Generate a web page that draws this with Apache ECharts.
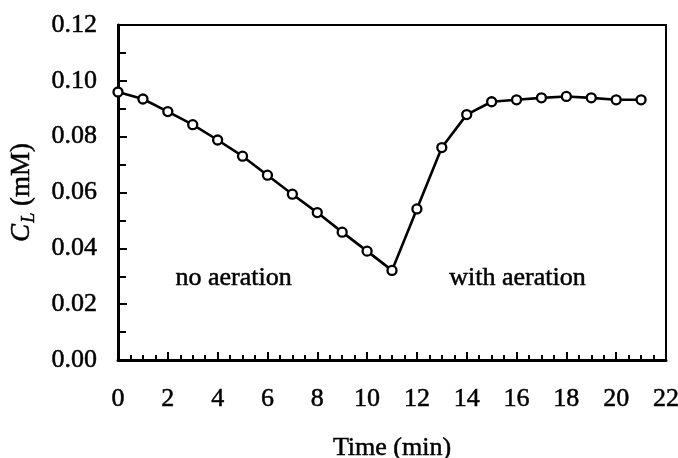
<!DOCTYPE html>
<html>
<head>
<meta charset="utf-8">
<script src="https://cdn.jsdelivr.net/npm/echarts@6/dist/echarts.min.js"></script>
<style>
  html, body { margin: 0; padding: 0; background: #fff; }
  #chart { width: 678px; height: 458px; }
</style>
</head>
<body>
<div id="chart"></div>
<script>
// Dissolved oxygen concentration over time
const timeMin = [0, 1, 2, 3, 4, 5, 6, 7, 8, 9, 10, 11, 12, 13, 14, 15, 16, 17, 18, 19, 20, 21];
const concMM = [0.0960, 0.0935, 0.0890, 0.0843, 0.0788, 0.0730, 0.0662, 0.0594, 0.0528, 0.0458,
                0.0390, 0.0321, 0.0541, 0.0761, 0.0879, 0.0925, 0.0932, 0.0939, 0.0944, 0.0939,
                0.0932, 0.0932];
const yTicks = ['0.00', '0.02', '0.04', '0.06', '0.08', '0.10', '0.12'];
const notes = [
  { t: 4.64, c: 0.0293, text: 'no aeration' },
  { t: 16.04, c: 0.0293, text: 'with aeration' }
];

const FONT = '"Liberation Serif", "DejaVu Serif", serif';
// slight ink spread on the text strokes
const INK = { textBorderColor: '#000', textBorderWidth: 0.5 };
const chart = echarts.init(document.getElementById('chart'), null, { renderer: 'canvas' });

chart.setOption({
  animation: false,
  backgroundColor: '#fff',
  grid: {
    left: 118, right: 12, top: 25, bottom: 98,
    containLabel: false, outerBoundsMode: 'none',
    show: true, borderColor: '#000', borderWidth: 2, backgroundColor: 'transparent'
  },
  xAxis: {
    type: 'value', min: 0, max: 22, interval: 2,
    name: 'Time (min)', nameLocation: 'middle', nameGap: 75,
    nameTextStyle: Object.assign({ fontFamily: FONT, fontSize: 26, color: '#000' }, INK),
    axisLine: { show: true, lineStyle: { color: '#000', width: 3 } },
    axisTick: { show: true, inside: true, length: 8, lineStyle: { color: '#000', width: 2 } },
    minorTick: { show: true, splitNumber: 4, length: 5, lineStyle: { color: '#000', width: 2 } },
    splitLine: { show: false },
    axisLabel: Object.assign({ margin: 26, fontFamily: FONT, fontSize: 26, color: '#000' }, INK)
  },
  yAxis: {
    type: 'value', min: 0, max: 0.12, interval: 0.02,
    name: '{c|C}{l|L}{n| (mM)}', nameLocation: 'middle', nameGap: 80, nameRotate: 90,
    nameTextStyle: {
      color: '#000',
      rich: {
        c: Object.assign({ fontFamily: FONT, fontSize: 27, fontStyle: 'italic', color: '#000', lineHeight: 30, verticalAlign: 'top' }, INK),
        l: Object.assign({ fontFamily: FONT, fontSize: 18, fontStyle: 'italic', color: '#000', lineHeight: 30, verticalAlign: 'bottom', padding: [0, 0, 0, 1] }, INK),
        n: Object.assign({ fontFamily: FONT, fontSize: 27, color: '#000', lineHeight: 30, verticalAlign: 'top' }, INK)
      }
    },
    axisLine: { show: true, lineStyle: { color: '#000', width: 3 } },
    axisTick: { show: true, inside: true, length: 9, lineStyle: { color: '#000', width: 2 } },
    minorTick: { show: true, splitNumber: 2, length: 8, lineStyle: { color: '#000', width: 2 } },
    splitLine: { show: false },
    axisLabel: Object.assign({
      margin: 21, fontFamily: FONT, fontSize: 26, color: '#000',
      formatter: (v) => yTicks[Math.round(v / 0.02)]
    }, INK)
  },
  series: [
    {
      type: 'line',
      data: timeMin.map((t, i) => [t, concMM[i]]),
      symbol: 'circle', symbolSize: 9, showSymbol: true,
      lineStyle: { color: '#000', width: 2.6 },
      itemStyle: { color: '#fff', borderColor: '#000', borderWidth: 2.3 },
      z: 3
    },
    {
      type: 'scatter',
      data: notes.map(n => ({ value: [n.t, n.c], name: n.text })),
      symbolSize: 0,
      silent: true,
      itemStyle: { opacity: 1 },
      label: Object.assign({
        show: true, position: 'inside', formatter: (p) => p.name,
        fontFamily: FONT, fontSize: 26, color: '#000'
      }, INK)
    }
  ]
});
</script>
</body>
</html>
